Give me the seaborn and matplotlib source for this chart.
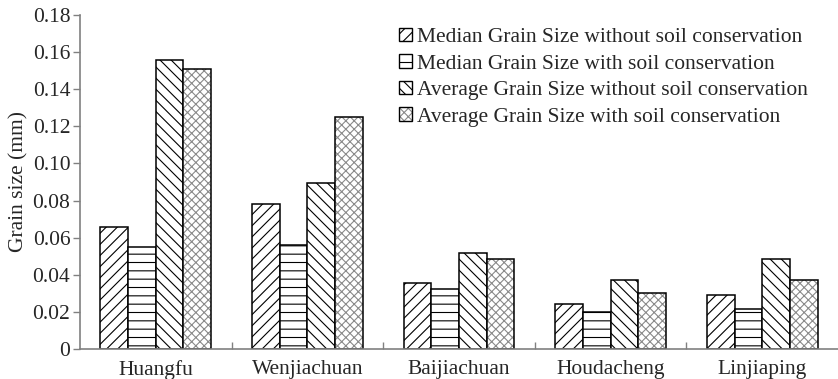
import matplotlib
matplotlib.use("Agg")
import matplotlib.pyplot as plt
from matplotlib.patches import Patch
from matplotlib.colors import to_rgba
import seaborn as sns
import pandas as pd

# Sediment grain size by catchment
sites = ["Huangfu", "Wenjiachuan", "Baijiachuan", "Houdacheng", "Linjiaping"]
series = [
    "Median Grain Size without soil conservation",
    "Median Grain Size with soil conservation",
    "Average Grain Size without soil conservation",
    "Average Grain Size with soil conservation",
]
median_without = [0.066, 0.078, 0.0355, 0.0243, 0.0293]
median_with = [0.055, 0.056, 0.0325, 0.0198, 0.0214]
average_without = [0.156, 0.0895, 0.0518, 0.0374, 0.0487]
average_with = [0.151, 0.125, 0.0485, 0.0304, 0.037]
y_ticks = [0, 0.02, 0.04, 0.06, 0.08, 0.10, 0.12, 0.14, 0.16, 0.18]
y_tick_labels = ["0", "0.02", "0.04", "0.06", "0.08", "0.10", "0.12", "0.14", "0.16", "0.18"]

sns.set_style("ticks")
plt.rcParams["font.family"] = ["Liberation Serif", "DejaVu Serif"]
plt.rcParams["hatch.linewidth"] = 0.8

values = [median_without, median_with, average_without, average_with]
df = pd.DataFrame(
    [(s, name, v) for name, vals in zip(series, values) for s, v in zip(sites, vals)],
    columns=["site", "series", "size"],
)

fig = plt.figure(figsize=(8.38, 3.79), dpi=100)
ax = fig.add_axes([80 / 838, 30 / 379, 758 / 838, 334 / 379])

sns.barplot(
    data=df, x="site", y="size", hue="series", hue_order=series, order=sites,
    palette=["white"] * 4, saturation=1, edgecolor="black", linewidth=1.1,
    width=0.73, legend=False, ax=ax,
)

hatches = ["///", "--", "\\\\\\", "xxxx"]
hatch_colors = ["black", "black", "black", "#8a8a8a"]


def style_patch(p, hatch, hcolor):
    p.set_hatch(hatch)
    p.set_edgecolor("black")
    # grey cross-hatch keeps a black outline
    p._hatch_color = to_rgba(hcolor)


for cont, h, hc in zip(ax.containers, hatches, hatch_colors):
    for p in cont:
        style_patch(p, h, hc)

ax.set_xlim(-0.5, len(sites) - 0.5)
ax.set_ylim(0, 0.18)
ax.set_yticks(y_ticks)
ax.set_yticklabels(y_tick_labels)
ax.set_xticks(range(len(sites)))
ax.set_xticklabels(sites)
ax.tick_params(axis="x", length=0, labelsize=15.5, pad=8)
ax.tick_params(axis="y", length=5, width=1, color="#808080", labelsize=15.5, pad=2, direction="out")
ax.set_xticks([i + 0.5 for i in range(len(sites) - 1)], minor=True)
ax.tick_params(axis="x", which="minor", length=5, width=1, color="#808080", direction="in")
ax.set_xlabel("")
ax.set_ylabel("Grain size (mm)", fontsize=15.5, labelpad=3)

for side in ["top", "right"]:
    ax.spines[side].set_visible(False)
for side in ["left", "bottom"]:
    ax.spines[side].set_color("#808080")
    ax.spines[side].set_linewidth(1.2)

handles = []
for h, hc in zip(hatches, hatch_colors):
    hp = Patch(facecolor="white", edgecolor="black", linewidth=1.0)
    style_patch(hp, h, hc)
    handles.append(hp)

leg = ax.legend(
    handles, series, loc="upper left", bbox_to_anchor=(0.421, 0.962),
    frameon=False, fontsize=15.5, handlelength=0.6, handleheight=0.6,
    handletextpad=0.25, labelspacing=0.33, borderpad=0, borderaxespad=0,
)
for lh, h, hc in zip(leg.legend_handles, hatches, hatch_colors):
    style_patch(lh, h, hc)

fig.savefig("out.png", dpi=100)
